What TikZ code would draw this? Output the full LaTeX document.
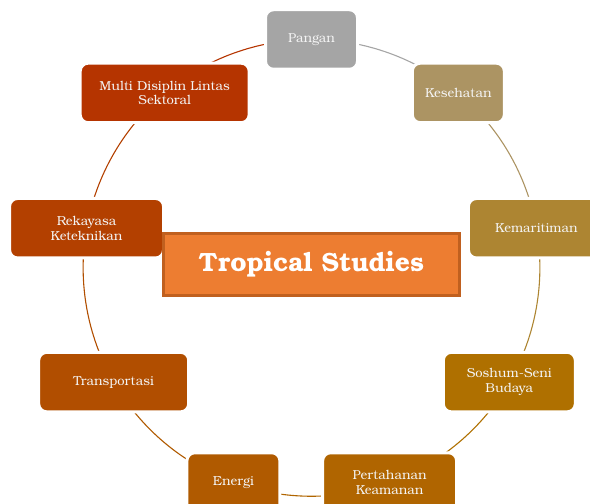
\documentclass[tikz,border=0pt]{standalone}
\usepackage{fontspec}
\setmainfont{TeX Gyre Bonum}
\usetikzlibrary{calc}
\pgfdeclarelayer{background}
\pgfsetlayers{background,main}
\definecolor{cPan}{HTML}{A5A5A5}
\definecolor{cKes}{HTML}{AC9463}
\definecolor{cKem}{HTML}{AD8532}
\definecolor{cSos}{HTML}{AF7000}
\definecolor{cPer}{HTML}{B06500}
\definecolor{cEne}{HTML}{B05A00}
\definecolor{cTra}{HTML}{B14E00}
\definecolor{cRek}{HTML}{B34000}
\definecolor{cMul}{HTML}{B53400}
\definecolor{cCore}{HTML}{ED7D31}
\definecolor{cCoreLine}{HTML}{C0601F}
\definecolor{cText}{HTML}{F4F4F4}
\tikzset{
  item/.style={draw=white, line width=3bp, rounded corners=8bp, text=cText,
    minimum height=59.5bp, inner sep=0pt, align=center,
    font=\fontsize{13}{14.7}\selectfont},
  ring/.style={line width=1.1bp, bend left=20, looseness=0.878},
  core/.style={fill=cCore, draw=cCoreLine, line width=3bp, minimum width=296bp,
    minimum height=62bp, text=white, font=\fontsize{26.5}{30}\selectfont\bfseries}
}
\begin{document}
\begin{tikzpicture}[x=1bp,y=1bp]
\clip (0,0) rectangle (590,504);
\coordinate (c) at (311.5,236.1);
\node[item, fill=cPan, minimum width=92bp]  (pan) at ($(c)+(90:228.4)$)   {Pangan};
\node[item, fill=cKes, minimum width=92bp]  (kes) at ($(c)+(50:228.4)$)   {Kesehatan};
\node[item, fill=cKem, minimum width=136bp] (kem) at ($(c)+(10:228.4)$)   {Kemaritiman};
\node[item, fill=cSos, minimum width=132bp] (sos) at ($(c)+(-30:228.4)$)  {Soshum-Seni\\Budaya};
\node[item, fill=cPer, minimum width=134bp] (per) at ($(c)+(-70:228.4)$)  {Pertahanan\\Keamanan};
\node[item, fill=cEne, minimum width=93bp]  (ene) at ($(c)+(-110:228.4)$) {Energi};
\node[item, fill=cTra, minimum width=150bp] (tra) at ($(c)+(-150:228.4)$) {Transportasi};
\node[item, fill=cRek, minimum width=154bp] (rek) at ($(c)+(170:228.4)$)  {Rekayasa\\Keteknikan};
\node[item, fill=cMul, minimum width=169bp] (mul) at ($(c)+(130:228.4)$)  {Multi Disiplin Lintas\\Sektoral};
\node[core] (core) at (311.5,239.5) {Tropical Studies};
\begin{pgfonlayer}{background}
\draw[ring, cPan] (pan.center) to (kes.center);
\draw[ring, cKes] (kes.center) to (kem.center);
\draw[ring, cKem] (kem.center) to (sos.center);
\draw[ring, cSos] (sos.center) to (per.center);
\draw[ring, cPer] (per.center) to (ene.center);
\draw[ring, cEne] (ene.center) to (tra.center);
\draw[ring, cTra] (tra.center) to (rek.center);
\draw[ring, cRek] (rek.center) to (mul.center);
\draw[ring, cMul] (mul.center) to (pan.center);
\end{pgfonlayer}
\end{tikzpicture}
\end{document}
